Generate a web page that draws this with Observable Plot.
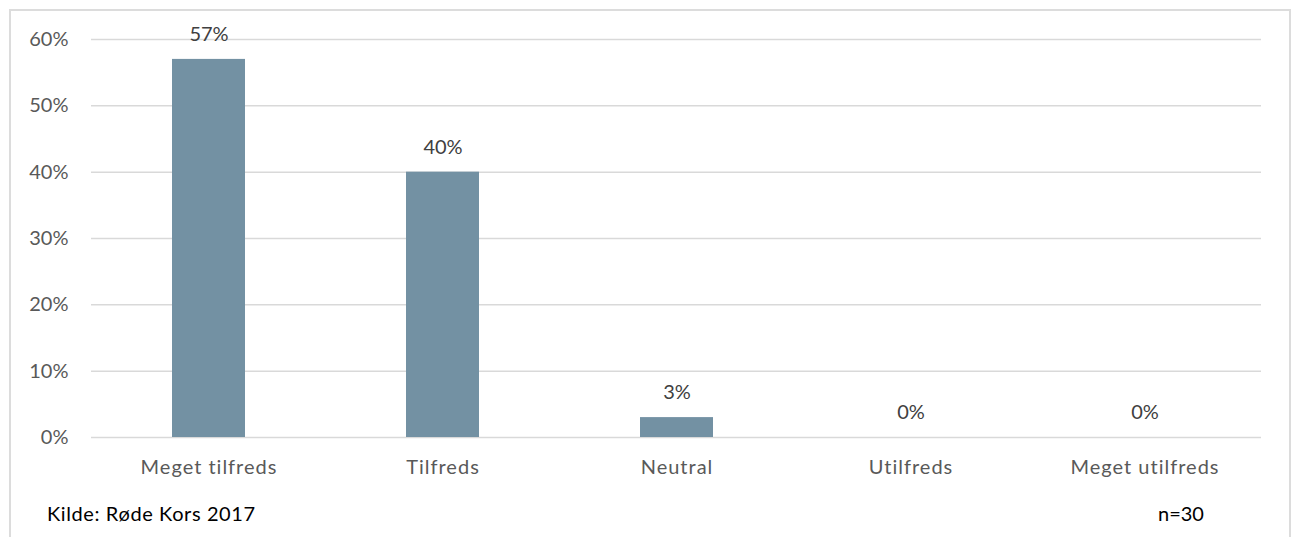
<!DOCTYPE html>
<html><head><meta charset="utf-8">
<script src="https://cdn.jsdelivr.net/npm/d3@7"></script>
<script src="https://cdn.jsdelivr.net/npm/@observablehq/plot@0.6"></script>
<style>
body{margin:0;background:#fff;font-family:Lato, sans-serif;}
#wrap{position:relative;width:1295px;height:537px;overflow:hidden;}
#frame{position:absolute;left:9px;top:9px;width:1282px;height:620px;border:2px solid #dcdcdc;box-sizing:border-box;}
#chart{position:absolute;left:0;top:0;}
#chart svg g[aria-label="x-axis tick label"] text{letter-spacing:1px;}
.cap{position:absolute;top:501px;font-size:20px;line-height:24px;color:#000;font-family:Lato, sans-serif;}
</style></head><body>
<div id="wrap"><div id="frame"></div><div id="chart"></div>
<div class="cap" id="src" style="left:47px;letter-spacing:0.6px"></div><div class="cap" id="n" style="left:1158px"></div></div>
<script>
const categories = ["Meget tilfreds", "Tilfreds", "Neutral", "Utilfreds", "Meget utilfreds"];
const values = [57, 40, 3, 0, 0];
const yTicks = [0, 10, 20, 30, 40, 50, 60];
const sourceText = "Kilde: Røde Kors 2017";
const nText = "n=30";

const data = categories.map((c, i) => ({cat: c, v: values[i]}));

const chart = Plot.plot({
  width: 1295, height: 537,
  marginLeft: 91, marginRight: 34, marginTop: 39, marginBottom: 100,
  style: {fontFamily: "Lato, sans-serif", fontSize: "20px", color: "#595959", background: "transparent"},
  x: {domain: categories, paddingInner: 0.69, paddingOuter: 0.345, label: null},
  y: {domain: [0, 60], label: null},
  marks: [
    Plot.gridY(yTicks, {stroke: "#d9d9d9", strokeOpacity: 1, strokeWidth: 1.5}),
    Plot.barY(data, {x: "cat", y: "v", fill: "#7391a3"}),
    Plot.text(data, {x: "cat", y: "v", text: d => d.v + "%", dy: -25, fill: "#404040", fontSize: 20}),
    Plot.axisX({tickSize: 0, tickPadding: 22, fill: "#595959", fontSize: 20}),
    Plot.axisY(yTicks, {tickSize: 0, tickPadding: 23, tickFormat: d => d + "%", fill: "#595959", fontSize: 20})
  ]
});
document.getElementById("chart").appendChild(chart);
document.getElementById("src").textContent = sourceText;
document.getElementById("n").textContent = nText;
</script>
</body></html>
